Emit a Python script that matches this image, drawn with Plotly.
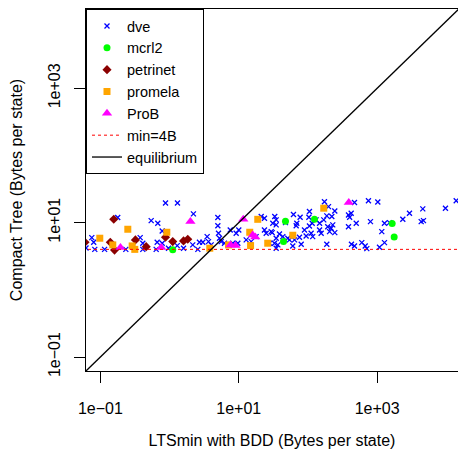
import plotly.graph_objects as go

# ---- data (Bytes per state) ----
dve_x = [0.062, 0.0751, 0.080, 0.083, 0.115, 0.178, 0.233, 0.376, 0.41, 0.41, 0.542, 0.640, 0.662,
         0.675, 0.782, 0.782, 0.873, 0.964, 1.29, 1.30, 1.59, 2.16, 2.21, 2.56, 2.70, 3.02, 3.49,
         3.65, 3.99, 4.98, 4.98, 5.09, 5.26, 5.57, 6.21, 7.52, 8.19, 9.17, 9.68, 10.0, 12.8, 15.1,
         17.8, 21.1, 23.5, 23.5, 24.9, 27.8, 29.4,
         173, 198, 470, 748, 1021, 244, 105, 61.7, 77, 103, 169, 221, 187, 385, 421, 400, 33.1,
         34.7, 31.0, 34.7, 47.3, 68.9, 67.5, 115, 131, 147, 105, 89, 147, 111, 155, 193, 216, 228,
         205, 244, 94, 117, 30.4, 38.7, 43.3, 34.7, 51, 54, 63.9, 75.3, 32.8, 36.7, 60.3, 79.8, 187,
         34.7, 498, 385, 800, 1165, 1275, 1507, 2346, 2931, 4325, 4667, 4560, 9700, 13870, 425,
         470, 599, 671, 708, 1080, 1275]
dve_y = [4.2, 5.98, 5.11, 4.0, 4.0, 11.9, 4.0, 5.98, 4.94, 4.0, 10.7, 4.0, 5.11,
         9.8, 7.52, 4.94, 19.6, 4.16, 4.55, 19.6, 4.16, 4.66, 13.5, 4.0, 5.11, 5.11, 6.19,
         5.22, 4.66, 11.9, 9.0, 6.95, 5.86, 5.22, 4.94, 7.78, 4.94, 6.95, 4.94, 7.78, 5.53, 5.22,
         6.19, 12.3, 11.6, 7.78, 6.95, 4.94, 7.34,
         20.5, 17.3, 19.9, 21.2, 20.3, 14.9, 14.6, 13.2, 12.0, 12.0, 11.0, 12.3, 12.6, 13.0, 13.8, 12.0, 12.3,
         11.0, 9.8, 9.25, 10.0, 9.8, 9.0, 9.8, 11.0, 9.8, 8.93, 7.78, 7.78, 6.95, 6.95, 8.7, 8.26, 9.25,
         7.34, 7.1, 6.34, 6.19, 7.1, 6.79, 6.19, 5.86, 5.86, 5.53, 5.53, 6.06, 4.94, 4.66, 4.50, 4.77, 4.77,
         4.16, 9.8, 8.7, 10.35, 7.34, 9.8, 10.0, 11.2, 13.8, 10.35, 10.7, 16.0, 16.4, 21.2, 4.77,
         4.5, 5.04, 4.5, 4.1, 4.31, 5.04]

mcrl2_x = [1.11, 47.3, 124, 44.3, 1646, 1760]
mcrl2_y = [3.95, 10.5, 11.2, 5.22, 9.67, 6.13]

petrinet_x = [0.06, 0.156, 0.139, 0.160, 0.321, 0.459, 0.873, 1.11, 1.59, 1.83]
petrinet_y = [5.11, 11.2, 5.11, 3.9, 5.53, 4.39, 6.06, 5.22, 5.35, 5.66]

promela_x = [0.098, 0.151, 0.249, 0.288, 0.314, 0.912, 3.81, 7.10, 14.4, 14.8, 18.8, 26.2, 60.3, 169]
promela_y = [5.86, 4.66, 7.97, 4.5, 4.0, 7.19, 4.16, 4.66, 7.19, 4.55, 11.2, 4.94, 6.49, 16.4]

prob_x = [2.0, 0.195, 0.757, 11.6, 7.59, 8.96, 15.9, 17.3, 389]
prob_y = [10.35, 4.25, 4.25, 11.2, 4.66, 4.55, 6.56, 6.13, 19.9]

min_bytes = 4                 # min=4B reference level
line_span = [1e-3, 1e6]       # extent of the reference lines (clipped by axes)

tick_vals = [0.1, 10, 1000]
tick_text = ["1e\u221201", "1e+01", "1e+03"]

FONT = "Liberation Sans, Arial, sans-serif"

fig = go.Figure()

series = [
    ("dve", dve_x, dve_y, dict(symbol="x-thin", size=5, color="#0000FF",
                               line=dict(width=1.3, color="#0000FF"))),
    ("mcrl2", mcrl2_x, mcrl2_y, dict(symbol="circle", size=7, color="#00FF00")),
    ("petrinet", petrinet_x, petrinet_y, dict(symbol="diamond", size=7, color="#8B0000")),
    ("promela", promela_x, promela_y, dict(symbol="square", size=7, color="#FFA500")),
    ("ProB", prob_x, prob_y, dict(symbol="triangle-up", size=9, color="#FF00FF")),
]
for i, (name, xs, ys, mk) in enumerate(series):
    fig.add_trace(go.Scatter(x=xs, y=ys, mode="markers", name=name, marker=mk,
                             legendrank=i + 1))

fig.add_trace(go.Scatter(x=line_span, y=[min_bytes, min_bytes], mode="lines", name="min=4B",
                         line=dict(color="#FF0000", width=1, dash="dot"), legendrank=6))
fig.add_trace(go.Scatter(x=line_span, y=line_span, mode="lines", name="equilibrium",
                         line=dict(color="black", width=1.3), legendrank=7))

axis_common = dict(
    type="log", showgrid=False, zeroline=False, showline=True, linecolor="black", linewidth=1,
    ticks="outside", ticklen=11, tickwidth=1, tickcolor="black",
    tickvals=tick_vals, ticktext=tick_text, automargin=False,
    tickfont=dict(family=FONT, size=16, color="black"),
)

fig.update_xaxes(**axis_common, range=[-1.208, 4.168], mirror=True, ticklabelstandoff=12,
                 title=dict(text="LTSmin with BDD (Bytes per state)", standoff=18,
                            font=dict(family=FONT, size=16, color="black")))
fig.update_yaxes(**axis_common, range=[-1.208, 4.179], mirror=False, tickangle=-90,
                 ticklabelstandoff=8,
                 title=dict(text="Compact Tree (Bytes per state)", standoff=18,
                            font=dict(family=FONT, size=16, color="black")))

fig.update_layout(
    width=458, height=457,
    margin=dict(l=86, r=0, t=9, b=86, pad=0),
    paper_bgcolor="white", plot_bgcolor="white",
    font=dict(family=FONT, size=16, color="black"),
    legend=dict(x=0, y=1, xanchor="left", yanchor="top", bgcolor="white",
                bordercolor="black", borderwidth=1, font=dict(family=FONT, size=14.5, color="black"),
                itemwidth=30, tracegroupgap=0),
)

fig.write_html("out.html")
